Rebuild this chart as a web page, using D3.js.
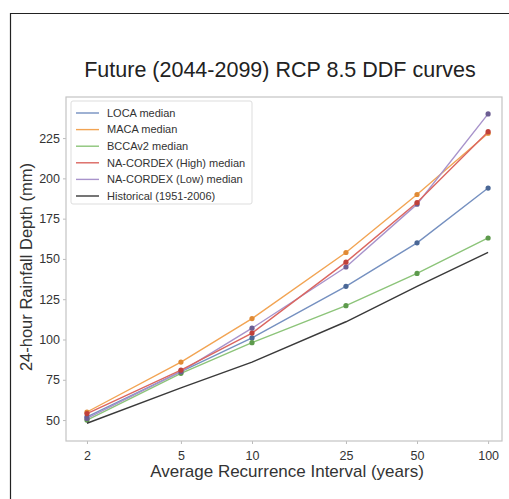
<!DOCTYPE html>
<html>
<head>
<meta charset="utf-8">
<script src="https://cdn.jsdelivr.net/npm/d3@7"></script>
<style>
  body { margin: 0; background: #fff; }
  text { font-family: "Liberation Sans", Arial, sans-serif; }
</style>
</head>
<body>
<svg id="chart" width="509" height="499"></svg>
<script>
// return periods (years)
const intervals = [2, 5, 10, 25, 50, 100];
const xTicks = [2, 5, 10, 25, 50, 100];
const yTicks = [50, 75, 100, 125, 150, 175, 200, 225];

// 24-hour rainfall depth (mm)
const loca = [52, 80, 101, 133, 160, 194];
const maca = [55, 86, 113, 154, 190, 228];
const bcca = [50, 79, 98, 121, 141, 163];
const cordexHigh = [54, 81, 104, 148, 185, 229];
const cordexLow = [51, 80, 107, 145, 184, 240];
const historical = [48, 70, 86, 111, 133, 154];

const seriesNames = ["LOCA median", "MACA median", "BCCAv2 median",
  "NA-CORDEX (High) median", "NA-CORDEX (Low) median", "Historical (1951-2006)"];

const series = [
  { name: seriesNames[0], values: loca, color: "#7590c0", dot: "#4a6796", markers: true },
  { name: seriesNames[1], values: maca, color: "#f2a453", dot: "#e08a35", markers: true },
  { name: seriesNames[2], values: bcca, color: "#8cc479", dot: "#5d9a4c", markers: true },
  { name: seriesNames[4], values: cordexLow, color: "#a893cb", dot: "#6c5d92", markers: true },
  { name: seriesNames[3], values: cordexHigh, color: "#db6660", dot: "#c0403a", markers: true },
  { name: seriesNames[5], values: historical, color: "#3a3a3a", dot: "#3a3a3a", markers: false }
];

const svg = d3.select("#chart");

// outer frame of the figure
svg.append("path")
  .attr("d", "M10.5,499 L10.5,13.5 L509,13.5")
  .attr("fill", "none").attr("stroke", "#222").attr("stroke-width", 1.2);

let plot = { left: 66, right: 502, top: 97, bottom: 441 };

let x = d3.scaleLog().domain([1.63, 114.5]).range([plot.left, plot.right]);
let y = d3.scaleLinear().domain([37, 250.5]).range([plot.bottom, plot.top]);

// title
svg.append("text")
  .attr("x", 280).attr("y", 77)
  .attr("text-anchor", "middle")
  .attr("font-size", 21.5)
  .attr("fill", "#222")
  .text("Future (2044-2099) RCP 8.5 DDF curves");

// axes
let xAxis = svg.append("g")
  .attr("transform", "translate(0," + plot.bottom + ")")
  .call(d3.axisBottom(x).tickValues(xTicks).tickFormat(d3.format("d")).tickSize(3).tickSizeOuter(0));
let yAxis = svg.append("g")
  .attr("transform", "translate(" + plot.left + ",0)")
  .call(d3.axisLeft(y).tickValues(yTicks).tickSize(3).tickSizeOuter(0));

[xAxis, yAxis].forEach(function (a) {
  a.select(".domain").remove();
  a.selectAll("line").attr("stroke", "#bbb");
  a.selectAll("text").attr("fill", "#333").attr("font-size", 12.5);
});
xAxis.selectAll("text").attr("dy", "1.0em");

// frame of the axes
svg.append("rect")
  .attr("x", plot.left).attr("y", plot.top)
  .attr("width", plot.right - plot.left).attr("height", plot.bottom - plot.top)
  .attr("fill", "none").attr("stroke", "#c4c4c4").attr("stroke-width", 1.2);

// axis labels
svg.append("text")
  .attr("x", 287).attr("y", 477)
  .attr("text-anchor", "middle").attr("font-size", 17).attr("fill", "#333")
  .text("Average Recurrence Interval (years)");
svg.append("text")
  .attr("transform", "translate(32,267) rotate(-90)")
  .attr("text-anchor", "middle").attr("font-size", 16.5).attr("fill", "#333")
  .text("24-hour Rainfall Depth (mm)");

// lines
let line = d3.line()
  .x(function (d, i) { return x(intervals[i]); })
  .y(function (d) { return y(d); });

let g = svg.append("g");
series.forEach(function (s) {
  g.append("path")
    .attr("d", line(s.values))
    .attr("fill", "none")
    .attr("stroke", s.color)
    .attr("stroke-width", 1.4);
  if (s.markers) {
    g.selectAll(null)
      .data(s.values)
      .enter()
      .append("circle")
      .attr("cx", function (d, i) { return x(intervals[i]); })
      .attr("cy", function (d) { return y(d); })
      .attr("r", 2.6)
      .attr("fill", s.dot);
  }
});

// legend
let legendColors = { };
series.forEach(function (s) { legendColors[s.name] = s.color; });

let legend = svg.append("g");
legend.append("rect")
  .attr("x", 71).attr("y", 101).attr("width", 181).attr("height", 103)
  .attr("rx", 2)
  .attr("fill", "#fff").attr("stroke", "#ddd");

seriesNames.forEach(function (name, i) {
  let ly = 113 + i * 16.6;
  legend.append("line")
    .attr("x1", 76).attr("x2", 99).attr("y1", ly).attr("y2", ly)
    .attr("stroke", legendColors[name]).attr("stroke-width", 1.4);
  legend.append("text")
    .attr("x", 107).attr("y", ly + 3.8)
    .attr("font-size", 11).attr("fill", "#333")
    .text(name);
});
</script>
</body>
</html>
